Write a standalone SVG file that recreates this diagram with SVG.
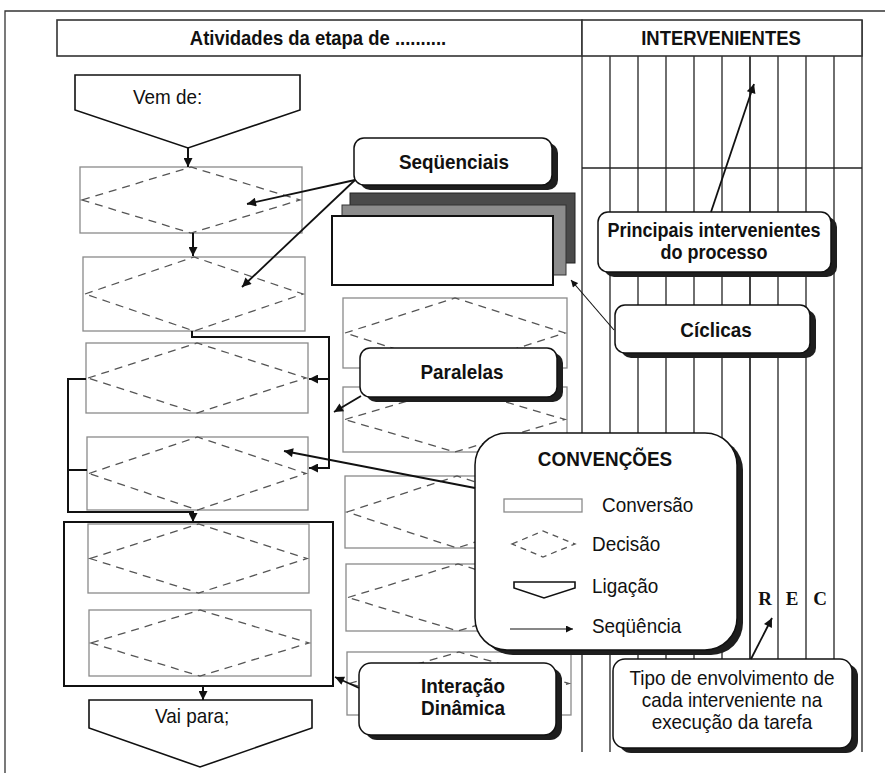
<svg xmlns="http://www.w3.org/2000/svg" width="885" height="773" viewBox="0 0 885 773">
  <defs>
    <marker id="ah" viewBox="0 0 10 10" refX="10" refY="5" markerWidth="11" markerHeight="9" markerUnits="userSpaceOnUse" orient="auto">
      <path d="M0,0 L10,5 L0,10 z" fill="#111"/>
    </marker>
    <marker id="ahs" viewBox="0 0 10 10" refX="10" refY="5" markerWidth="8" markerHeight="7" markerUnits="userSpaceOnUse" orient="auto">
      <path d="M0,0 L10,5 L0,10 z" fill="#111"/>
    </marker>
    <style>
      .frame{fill:none;stroke:#333;stroke-width:1.3}
      .hdr{fill:#fff;stroke:#333;stroke-width:1.6}
      .grid{stroke:#222;stroke-width:1.3}
      .conv{fill:#fff;stroke:#8a8a8a;stroke-width:1.3}
      .dec{fill:none;stroke:#555;stroke-width:1.3;stroke-dasharray:8 6}
      .lig{fill:#fff;stroke:#111;stroke-width:1.6}
      .cont{fill:none;stroke:#111;stroke-width:2}
      .flow{fill:none;stroke:#111;stroke-width:2}
      .ptr{fill:none;stroke:#111;stroke-width:1.8}
      .thin{fill:none;stroke:#111;stroke-width:1.1}
      .call{fill:#fff;stroke:#111;stroke-width:1.5}
      .shd{fill:#1e1e1e}
      text{font-family:"Liberation Sans",Arial,sans-serif;fill:#111}
      .h{font-size:20.5px;font-weight:bold;text-anchor:middle}
      .cb{font-size:21px;font-weight:bold;text-anchor:middle}
      .cp{font-size:20px;font-weight:bold;text-anchor:middle}
      .cr{font-size:21px;text-anchor:middle}
      .lg{font-size:21px}
      .rec{font-family:"Liberation Serif","Times New Roman",serif;font-size:19px;font-weight:bold;text-anchor:middle}
    </style>
  </defs>
  <rect width="885" height="773" fill="#fff"/>

  <!-- outer frame -->
  <g id="frame">
    <path class="frame" d="M5,773 L5,11 L885,11"/>
  </g>

  <!-- participants grid -->
  <g id="grid">
    <line class="grid" x1="582" y1="56" x2="582" y2="752"/>
    <line class="grid" x1="610" y1="56" x2="610" y2="752"/>
    <line class="grid" x1="638" y1="56" x2="638" y2="752"/>
    <line class="grid" x1="666" y1="56" x2="666" y2="752"/>
    <line class="grid" x1="694" y1="56" x2="694" y2="752"/>
    <line class="grid" x1="722" y1="56" x2="722" y2="752"/>
    <line class="grid" x1="750" y1="56" x2="750" y2="752" style="stroke-width:1.7"/>
    <line class="grid" x1="778" y1="56" x2="778" y2="752"/>
    <line class="grid" x1="806" y1="56" x2="806" y2="752"/>
    <line class="grid" x1="834" y1="56" x2="834" y2="752"/>
    <line class="grid" x1="862" y1="20" x2="862" y2="752"/>
    <line class="grid" x1="582" y1="168" x2="862" y2="168"/>
    <text class="rec" x="765" y="605">R</text>
    <text class="rec" x="792" y="605">E</text>
    <text class="rec" x="820" y="605">C</text>
  </g>

  <!-- header -->
  <g id="header">
    <rect class="hdr" x="57" y="20" width="525" height="36"/>
    <rect class="hdr" x="582" y="20" width="280" height="36"/>
    <text class="h" transform="translate(318,45) scale(0.9,1)">Atividades da etapa de ..........</text>
    <text class="h" transform="translate(721,45) scale(0.9,1)">INTERVENIENTES</text>
  </g>

  <!-- middle column of activities -->
  <g id="mid-a">
    <rect class="conv" x="343" y="298" width="224" height="70"/>
    <polygon class="dec" points="345,333 455,298 565,333 455,368"/>
  </g>
  <g id="mid-b">
    <rect class="conv" x="343" y="387" width="224" height="65"/>
    <polygon class="dec" points="345,419.5 455,387 565,419.5 455,452"/>
  </g>
  <g id="mid-c">
    <rect class="conv" x="345" y="476" width="224" height="72"/>
    <polygon class="dec" points="347,512 457,476 567,512 457,548"/>
  </g>
  <g id="mid-d">
    <rect class="conv" x="346" y="564" width="224" height="67"/>
    <polygon class="dec" points="348,597.5 458,564 568,597.5 458,631"/>
  </g>
  <g id="mid-e">
    <rect class="conv" x="347" y="652" width="224" height="63"/>
    <polygon class="dec" points="349,683.5 459,652 569,683.5 459,715"/>
  </g>

  <!-- cyclic stack -->
  <g id="ciclo-stack">
    <rect x="350" y="193" width="225" height="70" fill="#4a4a4a" stroke="#222" stroke-width="1"/>
    <rect x="342" y="205" width="224" height="70" fill="#8c8c8c" stroke="#333" stroke-width="1"/>
    <rect x="332" y="216" width="221" height="69" fill="#fff" stroke="#111" stroke-width="2"/>
  </g>

  <!-- left flow -->
  <g id="vem-de">
    <polygon class="lig" points="75,75 300,75 300,110 188,148 75,110"/>
    <text class="lg" transform="translate(133,104) scale(0.9,1)">Vem de:</text>
  </g>
  <g id="act-1">
    <rect class="conv" x="80" y="167" width="222" height="66"/>
    <polygon class="dec" points="82,200 191,167 300,200 191,233"/>
  </g>
  <g id="act-2">
    <rect class="conv" x="83" y="257" width="222" height="74"/>
    <polygon class="dec" points="85,294 194,257 303,294 194,331"/>
  </g>
  <g id="act-3">
    <rect class="conv" x="86" y="343" width="222" height="70"/>
    <polygon class="dec" points="88,378 197,343 306,378 197,413"/>
  </g>
  <g id="act-4">
    <rect class="conv" x="87" y="437" width="221" height="73"/>
    <polygon class="dec" points="89,473.5 197.5,437 306,473.5 197.5,510"/>
  </g>
  <g id="interacao-grupo">
    <rect class="cont" x="64" y="522" width="269" height="164"/>
  </g>
  <g id="act-5">
    <rect class="conv" x="88" y="524" width="221" height="69"/>
    <polygon class="dec" points="90,558.5 198.5,524 307,558.5 198.5,593"/>
  </g>
  <g id="act-6">
    <rect class="conv" x="89" y="610" width="222" height="66"/>
    <polygon class="dec" points="91,643 200,610 309,643 200,676"/>
  </g>
  <g id="vai-para">
    <polygon class="lig" points="89,700 312,700 312,728 200,767 89,728"/>
    <text class="lg" transform="translate(155,723) scale(0.9,1)">Vai para;</text>
  </g>

  <!-- callouts -->
  <g id="seq-label">
    <rect class="shd" x="360" y="143" width="198" height="47" rx="10"/>
    <rect class="call" x="354" y="138" width="198" height="47" rx="10"/>
    <text class="cb" transform="translate(454,169) scale(0.9,1)">Seqüenciais</text>
  </g>
  <g id="par-label">
    <rect class="shd" x="366" y="353" width="197" height="49" rx="10"/>
    <rect class="call" x="360" y="348" width="197" height="49" rx="10"/>
    <text class="cb" transform="translate(462,379) scale(0.9,1)">Paralelas</text>
  </g>
  <g id="princ-label">
    <rect class="shd" x="604" y="217" width="233" height="60" rx="10"/>
    <rect class="call" x="598" y="212" width="233" height="60" rx="10"/>
    <text class="cp" transform="translate(714,237) scale(0.9,1)">Principais intervenientes</text>
    <text class="cp" transform="translate(714,259) scale(0.9,1)">do processo</text>
  </g>
  <g id="cic-label">
    <rect class="shd" x="621" y="310" width="195" height="48" rx="10"/>
    <rect class="call" x="615" y="305" width="195" height="48" rx="10"/>
    <text class="cb" transform="translate(716,337) scale(0.9,1)">Cíclicas</text>
  </g>
  <g id="convencoes">
    <rect class="shd" x="481" y="438" width="262" height="217" rx="32"/>
    <rect class="call" x="475" y="433" width="262" height="217" rx="32"/>
    <text class="cb" transform="translate(605,466) scale(0.9,1)">CONVENÇÕES</text>
    <rect class="conv" x="504" y="499" width="78" height="13"/>
    <text class="lg" transform="translate(602,512) scale(0.9,1)">Conversão</text>
    <polygon class="dec" points="512,544 543,531 575,544 543,557" style="stroke-dasharray:6 5"/>
    <text class="lg" transform="translate(592,551) scale(0.9,1)">Decisão</text>
    <polygon class="lig" points="514,582 575,582 575,588 544,598 514,588"/>
    <text class="lg" transform="translate(592,593) scale(0.9,1)">Ligação</text>
    <line class="thin" x1="510" y1="629" x2="573" y2="629" marker-end="url(#ahs)"/>
    <text class="lg" transform="translate(592,633) scale(0.9,1)">Seqüência</text>
  </g>
  <g id="inter-label">
    <rect class="shd" x="365" y="668" width="197" height="72" rx="12"/>
    <rect class="call" x="359" y="663" width="197" height="72" rx="12"/>
    <text class="cb" transform="translate(463,693) scale(0.9,1)">Interação</text>
    <text class="cb" transform="translate(463,715) scale(0.9,1)">Dinâmica</text>
  </g>
  <g id="tipo-label">
    <rect class="shd" x="619" y="664" width="239" height="89" rx="12"/>
    <rect class="call" x="613" y="659" width="239" height="89" rx="12"/>
    <text class="cr" transform="translate(732,685) scale(0.9,1)">Tipo de envolvimento de</text>
    <text class="cr" transform="translate(732,707) scale(0.9,1)">cada interveniente na</text>
    <text class="cr" transform="translate(732,729) scale(0.9,1)">execução da tarefa</text>
  </g>

  <!-- connectors -->
  <g id="connectors">
    <line class="flow" x1="188" y1="148" x2="188" y2="167" marker-end="url(#ah)"/>
    <line class="flow" x1="193" y1="233" x2="193" y2="256" marker-end="url(#ah)"/>
    <polyline class="flow" points="192,331 192,337 329,337 329,469"/>
    <line class="flow" x1="329" y1="379" x2="309" y2="379" marker-end="url(#ah)"/>
    <line class="flow" x1="329" y1="468" x2="309" y2="468" marker-end="url(#ah)"/>
    <polyline class="flow" points="86,379 68,379 68,512 193,512"/>
    <line class="flow" x1="87" y1="470" x2="68" y2="470"/>
    <line class="flow" x1="193" y1="511" x2="193" y2="522" marker-end="url(#ah)"/>
    <line class="flow" x1="203" y1="686" x2="203" y2="700" marker-end="url(#ah)"/>
    <line class="ptr" x1="355" y1="180" x2="247" y2="204" marker-end="url(#ah)"/>
    <line class="ptr" x1="355" y1="180" x2="242" y2="287" marker-end="url(#ah)"/>
    <line class="ptr" x1="361" y1="396" x2="334" y2="412" marker-end="url(#ah)"/>
    <line class="ptr" x1="475" y1="488" x2="284" y2="451" marker-end="url(#ah)"/>
    <line class="ptr" x1="359" y1="688" x2="335" y2="677" marker-end="url(#ah)"/>
    <line class="ptr" x1="711" y1="212" x2="754" y2="84" marker-end="url(#ah)"/>
    <line class="thin" x1="614" y1="330" x2="571" y2="280" marker-end="url(#ahs)"/>
    <line class="ptr" x1="751" y1="659" x2="772" y2="618" marker-end="url(#ah)"/>
  </g>
</svg>
